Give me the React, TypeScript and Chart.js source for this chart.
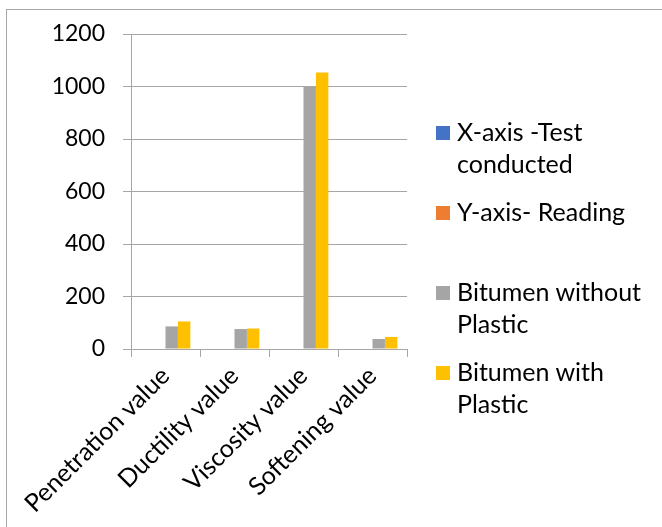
import React, { useEffect, useRef } from "react";
import { Chart, registerables } from "chart.js";

Chart.register(...registerables);

const categories = ["Penetration value", "Ductility value", "Viscosity value", "Softening value"];
const seriesLabels = ["X-axis -Test conducted", "Y-axis- Reading", "Bitumen without Plastic", "Bitumen with Plastic"];
const seriesColors = ["#4472C4", "#ED7D31", "#A5A5A5", "#FFC000"];
const xAxisSeries: (number | null)[] = [null, null, null, null];
const yAxisSeries: (number | null)[] = [null, null, null, null];
const withoutPlastic = [86, 76, 1000, 38];
const withPlastic = [105, 78, 1053, 46];
const yTicks = [0, 200, 400, 600, 800, 1000, 1200];

const FONT = "Lato";
const FS = 25;
const GRID = "#a6a6a6";

const legendTops = [116.3, 195.6, 276.3, 356.3];

export default function App() {
  const ref = useRef<HTMLCanvasElement | null>(null);

  useEffect(() => {
    if (!ref.current) return;
    const seriesData = [xAxisSeries, yAxisSeries, withoutPlastic, withPlastic];
    const chart = new Chart(ref.current, {
      type: "bar",
      data: {
        labels: categories,
        datasets: seriesLabels.map((label, i) => ({
          label,
          data: seriesData[i],
          backgroundColor: seriesColors[i],
          borderWidth: 0,
          categoryPercentage: 0.72,
          barPercentage: 1,
        })),
      },
      options: {
        responsive: false,
        animation: false,
        devicePixelRatio: 1,
        layout: { padding: { left: 0, top: 34, right: 255, bottom: 0 } },
        plugins: { legend: { display: false }, tooltip: { enabled: false } },
        scales: {
          x: {
            afterFit: (s: any) => {
              s.height = 178;
            },
            grid: { display: true, drawOnChartArea: false, offset: true, tickLength: 8, color: GRID },
            border: { display: true, color: GRID, width: 1 },
            ticks: {
              minRotation: 45,
              maxRotation: 45,
              padding: 4,
              color: "#000",
              font: { family: FONT, size: FS },
            },
          },
          y: {
            min: 0,
            max: 1200,
            afterFit: (s: any) => {
              s.width = 131;
            },
            afterBuildTicks: (s: any) => {
              s.ticks = yTicks.map((v) => ({ value: v }));
            },
            grid: { color: GRID, tickLength: 8 },
            border: { display: true, color: GRID, width: 1 },
            ticks: {
              padding: 18,
              color: "#000",
              font: { family: FONT, size: 23 },
              callback: (v: any) => String(v),
            },
          },
        },
      },
    });
    return () => chart.destroy();
  }, []);

  return (
    <div style={{ position: "absolute", left: 0, top: 0, width: 662, height: 527, overflow: "hidden", background: "#fff" }}>
      <div
        style={{
          position: "absolute",
          left: 6,
          top: 9,
          width: 700,
          height: 600,
          borderLeft: "1.5px solid #a6a6a6",
          borderTop: "1.5px solid #a6a6a6",
        }}
      />
      <canvas ref={ref} width={662} height={527} style={{ position: "absolute", left: 0, top: 0 }} />
      {seriesLabels.map((label, i) => (
        <div
          key={label}
          style={{
            position: "absolute",
            left: 436,
            top: legendTops[i],
            width: 224,
            fontFamily: FONT,
            fontSize: FS,
            lineHeight: "31.5px",
            color: "#000",
          }}
        >
          <span
            style={{
              position: "absolute",
              left: 0,
              top: 10,
              width: 14,
              height: 14,
              background: seriesColors[i],
            }}
          />
          <div style={{ marginLeft: 21, width: 200 }}>{label}</div>
        </div>
      ))}
    </div>
  );
}
